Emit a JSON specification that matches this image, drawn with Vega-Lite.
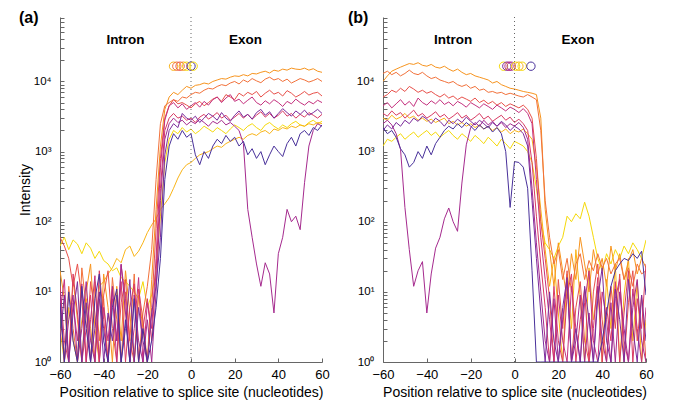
{
"$schema":"https://vega.github.io/schema/vega-lite/v6.json",
"padding":{"left":18,"top":10,"right":5,"bottom":5},
"config":{"font":"Liberation Sans","view":{"stroke":null},
"axis":{"grid":false,"domainColor":"#666","tickColor":"#666","labelColor":"#000","titleColor":"#000","labelFontSize":13,"titleFontSize":14,"titleFontWeight":"normal","labelFlush":false,"labelOverlap":false,"tickSize":-4},
"axisX":{"labelPadding":10,"titlePadding":4},
"axisY":{"labelPadding":13,"titlePadding":1,"labelFontSize":11.5}},
"datasets":{
"a":[
{"s":1,"x":-60,"y":45},{"s":1,"x":-58,"y":60},{"s":1,"x":-56,"y":40},{"s":1,"x":-54,"y":55},{"s":1,"x":-52,"y":48},{"s":1,"x":-50,"y":35},{"s":1,"x":-48,"y":50},{"s":1,"x":-46,"y":42},{"s":1,"x":-44,"y":30},{"s":1,"x":-42,"y":38},{"s":1,"x":-40,"y":28},{"s":1,"x":-38,"y":25},{"s":1,"x":-36,"y":20},{"s":1,"x":-34,"y":22},{"s":1,"x":-32,"y":16},{"s":1,"x":-30,"y":14},{"s":1,"x":-28,"y":12},{"s":1,"x":-26,"y":10},{"s":1,"x":-24,"y":8},{"s":1,"x":-22,"y":14},{"s":1,"x":-20,"y":6},{"s":1,"x":-18,"y":9},{"s":1,"x":-16,"y":20},{"s":1,"x":-14,"y":120},{"s":1,"x":-12,"y":700},{"s":1,"x":-10,"y":1500},{"s":1,"x":-8,"y":2000},{"s":1,"x":-6,"y":1800},{"s":1,"x":-4,"y":2200},{"s":1,"x":-2,"y":1900},{"s":1,"x":0,"y":2100},{"s":1,"x":2,"y":1800},{"s":1,"x":4,"y":2000},{"s":1,"x":6,"y":2300},{"s":1,"x":8,"y":2100},{"s":1,"x":10,"y":1900},{"s":1,"x":12,"y":2200},{"s":1,"x":14,"y":2000},{"s":1,"x":16,"y":1800},{"s":1,"x":18,"y":2100},{"s":1,"x":20,"y":2400},{"s":1,"x":22,"y":2200},{"s":1,"x":24,"y":2000},{"s":1,"x":26,"y":2300},{"s":1,"x":28,"y":2500},{"s":1,"x":30,"y":2200},{"s":1,"x":32,"y":2000},{"s":1,"x":34,"y":2400},{"s":1,"x":36,"y":2600},{"s":1,"x":38,"y":2300},{"s":1,"x":40,"y":2100},{"s":1,"x":42,"y":2400},{"s":1,"x":44,"y":2200},{"s":1,"x":46,"y":2500},{"s":1,"x":48,"y":2700},{"s":1,"x":50,"y":2400},{"s":1,"x":52,"y":2300},{"s":1,"x":54,"y":2600},{"s":1,"x":56,"y":2800},{"s":1,"x":58,"y":2500},{"s":1,"x":60,"y":2700},
{"s":2,"x":-60,"y":3},{"s":2,"x":-58,"y":1},{"s":2,"x":-56,"y":6},{"s":2,"x":-54,"y":2},{"s":2,"x":-52,"y":1},{"s":2,"x":-50,"y":4},{"s":2,"x":-48,"y":8},{"s":2,"x":-46,"y":3},{"s":2,"x":-44,"y":1},{"s":2,"x":-42,"y":12},{"s":2,"x":-40,"y":14},{"s":2,"x":-38,"y":18},{"s":2,"x":-36,"y":22},{"s":2,"x":-34,"y":30},{"s":2,"x":-32,"y":26},{"s":2,"x":-30,"y":40},{"s":2,"x":-28,"y":45},{"s":2,"x":-26,"y":32},{"s":2,"x":-24,"y":38},{"s":2,"x":-22,"y":50},{"s":2,"x":-20,"y":70},{"s":2,"x":-18,"y":90},{"s":2,"x":-16,"y":110},{"s":2,"x":-14,"y":150},{"s":2,"x":-12,"y":180},{"s":2,"x":-10,"y":220},{"s":2,"x":-8,"y":300},{"s":2,"x":-6,"y":420},{"s":2,"x":-4,"y":550},{"s":2,"x":-2,"y":650},{"s":2,"x":0,"y":700},{"s":2,"x":2,"y":800},{"s":2,"x":4,"y":900},{"s":2,"x":6,"y":950},{"s":2,"x":8,"y":1000},{"s":2,"x":10,"y":1100},{"s":2,"x":12,"y":1200},{"s":2,"x":14,"y":1150},{"s":2,"x":16,"y":1300},{"s":2,"x":18,"y":1400},{"s":2,"x":20,"y":1500},{"s":2,"x":22,"y":1600},{"s":2,"x":24,"y":1500},{"s":2,"x":26,"y":1700},{"s":2,"x":28,"y":1800},{"s":2,"x":30,"y":1700},{"s":2,"x":32,"y":1900},{"s":2,"x":34,"y":2000},{"s":2,"x":36,"y":1800},{"s":2,"x":38,"y":2100},{"s":2,"x":40,"y":2000},{"s":2,"x":42,"y":2200},{"s":2,"x":44,"y":2100},{"s":2,"x":46,"y":2300},{"s":2,"x":48,"y":2200},{"s":2,"x":50,"y":2400},{"s":2,"x":52,"y":2300},{"s":2,"x":54,"y":2500},{"s":2,"x":56,"y":2400},{"s":2,"x":58,"y":2600},{"s":2,"x":60,"y":2500},
{"s":3,"x":-60,"y":20},{"s":3,"x":-58,"y":8},{"s":3,"x":-56,"y":1},{"s":3,"x":-54,"y":15},{"s":3,"x":-52,"y":4},{"s":3,"x":-50,"y":1},{"s":3,"x":-48,"y":10},{"s":3,"x":-46,"y":25},{"s":3,"x":-44,"y":3},{"s":3,"x":-42,"y":1},{"s":3,"x":-40,"y":18},{"s":3,"x":-38,"y":6},{"s":3,"x":-36,"y":1},{"s":3,"x":-34,"y":12},{"s":3,"x":-32,"y":2},{"s":3,"x":-30,"y":20},{"s":3,"x":-28,"y":5},{"s":3,"x":-26,"y":1},{"s":3,"x":-24,"y":9},{"s":3,"x":-22,"y":3},{"s":3,"x":-20,"y":1},{"s":3,"x":-18,"y":15},{"s":3,"x":-16,"y":150},{"s":3,"x":-14,"y":1200},{"s":3,"x":-12,"y":4000},{"s":3,"x":-10,"y":6000},{"s":3,"x":-8,"y":7000},{"s":3,"x":-6,"y":6500},{"s":3,"x":-4,"y":7500},{"s":3,"x":-2,"y":8500},{"s":3,"x":0,"y":8000},{"s":3,"x":2,"y":8800},{"s":3,"x":4,"y":9000},{"s":3,"x":6,"y":9500},{"s":3,"x":8,"y":9200},{"s":3,"x":10,"y":10000},{"s":3,"x":12,"y":10500},{"s":3,"x":14,"y":11000},{"s":3,"x":16,"y":10800},{"s":3,"x":18,"y":11500},{"s":3,"x":20,"y":12000},{"s":3,"x":22,"y":11800},{"s":3,"x":24,"y":12500},{"s":3,"x":26,"y":12000},{"s":3,"x":28,"y":13000},{"s":3,"x":30,"y":12800},{"s":3,"x":32,"y":13500},{"s":3,"x":34,"y":14000},{"s":3,"x":36,"y":13200},{"s":3,"x":38,"y":14500},{"s":3,"x":40,"y":14000},{"s":3,"x":42,"y":15000},{"s":3,"x":44,"y":14500},{"s":3,"x":46,"y":15500},{"s":3,"x":48,"y":15000},{"s":3,"x":50,"y":14800},{"s":3,"x":52,"y":15500},{"s":3,"x":54,"y":14500},{"s":3,"x":56,"y":15200},{"s":3,"x":58,"y":14000},{"s":3,"x":60,"y":13500},
{"s":4,"x":-60,"y":8},{"s":4,"x":-58,"y":1},{"s":4,"x":-56,"y":12},{"s":4,"x":-54,"y":3},{"s":4,"x":-52,"y":1},{"s":4,"x":-50,"y":22},{"s":4,"x":-48,"y":6},{"s":4,"x":-46,"y":1},{"s":4,"x":-44,"y":14},{"s":4,"x":-42,"y":2},{"s":4,"x":-40,"y":8},{"s":4,"x":-38,"y":1},{"s":4,"x":-36,"y":16},{"s":4,"x":-34,"y":4},{"s":4,"x":-32,"y":1},{"s":4,"x":-30,"y":10},{"s":4,"x":-28,"y":2},{"s":4,"x":-26,"y":18},{"s":4,"x":-24,"y":1},{"s":4,"x":-22,"y":5},{"s":4,"x":-20,"y":12},{"s":4,"x":-18,"y":40},{"s":4,"x":-16,"y":400},{"s":4,"x":-14,"y":2500},{"s":4,"x":-12,"y":4500},{"s":4,"x":-10,"y":5000},{"s":4,"x":-8,"y":5500},{"s":4,"x":-6,"y":5200},{"s":4,"x":-4,"y":6000},{"s":4,"x":-2,"y":5800},{"s":4,"x":0,"y":6500},{"s":4,"x":2,"y":7000},{"s":4,"x":4,"y":6800},{"s":4,"x":6,"y":7500},{"s":4,"x":8,"y":8000},{"s":4,"x":10,"y":7800},{"s":4,"x":12,"y":8500},{"s":4,"x":14,"y":9000},{"s":4,"x":16,"y":8700},{"s":4,"x":18,"y":9500},{"s":4,"x":20,"y":10000},{"s":4,"x":22,"y":9200},{"s":4,"x":24,"y":10500},{"s":4,"x":26,"y":9800},{"s":4,"x":28,"y":11000},{"s":4,"x":30,"y":10200},{"s":4,"x":32,"y":9600},{"s":4,"x":34,"y":10800},{"s":4,"x":36,"y":11500},{"s":4,"x":38,"y":10500},{"s":4,"x":40,"y":11000},{"s":4,"x":42,"y":10000},{"s":4,"x":44,"y":10800},{"s":4,"x":46,"y":9500},{"s":4,"x":48,"y":10200},{"s":4,"x":50,"y":11000},{"s":4,"x":52,"y":10500},{"s":4,"x":54,"y":9800},{"s":4,"x":56,"y":10300},{"s":4,"x":58,"y":11000},{"s":4,"x":60,"y":10000},
{"s":5,"x":-60,"y":60},{"s":5,"x":-58,"y":45},{"s":5,"x":-56,"y":30},{"s":5,"x":-54,"y":12},{"s":5,"x":-52,"y":25},{"s":5,"x":-50,"y":8},{"s":5,"x":-48,"y":1},{"s":5,"x":-46,"y":14},{"s":5,"x":-44,"y":5},{"s":5,"x":-42,"y":1},{"s":5,"x":-40,"y":9},{"s":5,"x":-38,"y":20},{"s":5,"x":-36,"y":3},{"s":5,"x":-34,"y":1},{"s":5,"x":-32,"y":7},{"s":5,"x":-30,"y":15},{"s":5,"x":-28,"y":2},{"s":5,"x":-26,"y":1},{"s":5,"x":-24,"y":11},{"s":5,"x":-22,"y":4},{"s":5,"x":-20,"y":1},{"s":5,"x":-18,"y":6},{"s":5,"x":-16,"y":80},{"s":5,"x":-14,"y":800},{"s":5,"x":-12,"y":3000},{"s":5,"x":-10,"y":4500},{"s":5,"x":-8,"y":5500},{"s":5,"x":-6,"y":4800},{"s":5,"x":-4,"y":5000},{"s":5,"x":-2,"y":4600},{"s":5,"x":0,"y":4200},{"s":5,"x":2,"y":4800},{"s":5,"x":4,"y":5200},{"s":5,"x":6,"y":4500},{"s":5,"x":8,"y":5000},{"s":5,"x":10,"y":5600},{"s":5,"x":12,"y":6000},{"s":5,"x":14,"y":5200},{"s":5,"x":16,"y":6500},{"s":5,"x":18,"y":6000},{"s":5,"x":20,"y":5500},{"s":5,"x":22,"y":6800},{"s":5,"x":24,"y":6200},{"s":5,"x":26,"y":7000},{"s":5,"x":28,"y":6500},{"s":5,"x":30,"y":7200},{"s":5,"x":32,"y":6000},{"s":5,"x":34,"y":6800},{"s":5,"x":36,"y":7500},{"s":5,"x":38,"y":6600},{"s":5,"x":40,"y":7000},{"s":5,"x":42,"y":6200},{"s":5,"x":44,"y":7400},{"s":5,"x":46,"y":6800},{"s":5,"x":48,"y":6000},{"s":5,"x":50,"y":6500},{"s":5,"x":52,"y":7200},{"s":5,"x":54,"y":6400},{"s":5,"x":56,"y":6800},{"s":5,"x":58,"y":7000},{"s":5,"x":60,"y":6200},
{"s":6,"x":-60,"y":12},{"s":6,"x":-58,"y":2},{"s":6,"x":-56,"y":1},{"s":6,"x":-54,"y":18},{"s":6,"x":-52,"y":5},{"s":6,"x":-50,"y":1},{"s":6,"x":-48,"y":3},{"s":6,"x":-46,"y":9},{"s":6,"x":-44,"y":1},{"s":6,"x":-42,"y":20},{"s":6,"x":-40,"y":4},{"s":6,"x":-38,"y":1},{"s":6,"x":-36,"y":8},{"s":6,"x":-34,"y":2},{"s":6,"x":-32,"y":14},{"s":6,"x":-30,"y":1},{"s":6,"x":-28,"y":6},{"s":6,"x":-26,"y":13},{"s":6,"x":-24,"y":1},{"s":6,"x":-22,"y":3},{"s":6,"x":-20,"y":8},{"s":6,"x":-18,"y":2},{"s":6,"x":-16,"y":20},{"s":6,"x":-14,"y":300},{"s":6,"x":-12,"y":2000},{"s":6,"x":-10,"y":3000},{"s":6,"x":-8,"y":3500},{"s":6,"x":-6,"y":3000},{"s":6,"x":-4,"y":3200},{"s":6,"x":-2,"y":2800},{"s":6,"x":0,"y":3000},{"s":6,"x":2,"y":2600},{"s":6,"x":4,"y":3100},{"s":6,"x":6,"y":3400},{"s":6,"x":8,"y":2900},{"s":6,"x":10,"y":3200},{"s":6,"x":12,"y":3600},{"s":6,"x":14,"y":3000},{"s":6,"x":16,"y":3300},{"s":6,"x":18,"y":2800},{"s":6,"x":20,"y":3100},{"s":6,"x":22,"y":3500},{"s":6,"x":24,"y":3000},{"s":6,"x":26,"y":3400},{"s":6,"x":28,"y":2900},{"s":6,"x":30,"y":3300},{"s":6,"x":32,"y":3700},{"s":6,"x":34,"y":3100},{"s":6,"x":36,"y":3500},{"s":6,"x":38,"y":3000},{"s":6,"x":40,"y":3300},{"s":6,"x":42,"y":3800},{"s":6,"x":44,"y":3200},{"s":6,"x":46,"y":3500},{"s":6,"x":48,"y":3000},{"s":6,"x":50,"y":3400},{"s":6,"x":52,"y":3100},{"s":6,"x":54,"y":3600},{"s":6,"x":56,"y":3300},{"s":6,"x":58,"y":3000},{"s":6,"x":60,"y":3400},
{"s":7,"x":-60,"y":5},{"s":7,"x":-58,"y":15},{"s":7,"x":-56,"y":1},{"s":7,"x":-54,"y":7},{"s":7,"x":-52,"y":2},{"s":7,"x":-50,"y":13},{"s":7,"x":-48,"y":1},{"s":7,"x":-46,"y":4},{"s":7,"x":-44,"y":17},{"s":7,"x":-42,"y":1},{"s":7,"x":-40,"y":6},{"s":7,"x":-38,"y":2},{"s":7,"x":-36,"y":11},{"s":7,"x":-34,"y":1},{"s":7,"x":-32,"y":24},{"s":7,"x":-30,"y":8},{"s":7,"x":-28,"y":1},{"s":7,"x":-26,"y":3},{"s":7,"x":-24,"y":16},{"s":7,"x":-22,"y":1},{"s":7,"x":-20,"y":7},{"s":7,"x":-18,"y":3},{"s":7,"x":-16,"y":30},{"s":7,"x":-14,"y":600},{"s":7,"x":-12,"y":2800},{"s":7,"x":-10,"y":4500},{"s":7,"x":-8,"y":5000},{"s":7,"x":-6,"y":4200},{"s":7,"x":-4,"y":4800},{"s":7,"x":-2,"y":4000},{"s":7,"x":0,"y":4500},{"s":7,"x":2,"y":5000},{"s":7,"x":4,"y":4300},{"s":7,"x":6,"y":5200},{"s":7,"x":8,"y":4600},{"s":7,"x":10,"y":5500},{"s":7,"x":12,"y":6000},{"s":7,"x":14,"y":5000},{"s":7,"x":16,"y":5800},{"s":7,"x":18,"y":6500},{"s":7,"x":20,"y":5200},{"s":7,"x":22,"y":5600},{"s":7,"x":24,"y":4800},{"s":7,"x":26,"y":5400},{"s":7,"x":28,"y":6000},{"s":7,"x":30,"y":5000},{"s":7,"x":32,"y":4600},{"s":7,"x":34,"y":5300},{"s":7,"x":36,"y":4800},{"s":7,"x":38,"y":5500},{"s":7,"x":40,"y":5000},{"s":7,"x":42,"y":4400},{"s":7,"x":44,"y":5200},{"s":7,"x":46,"y":4800},{"s":7,"x":48,"y":5600},{"s":7,"x":50,"y":5000},{"s":7,"x":52,"y":4600},{"s":7,"x":54,"y":5200},{"s":7,"x":56,"y":4800},{"s":7,"x":58,"y":5400},{"s":7,"x":60,"y":5000},
{"s":8,"x":-60,"y":10},{"s":8,"x":-58,"y":1},{"s":8,"x":-56,"y":4},{"s":8,"x":-54,"y":9},{"s":8,"x":-52,"y":1},{"s":8,"x":-50,"y":3},{"s":8,"x":-48,"y":14},{"s":8,"x":-46,"y":2},{"s":8,"x":-44,"y":1},{"s":8,"x":-42,"y":8},{"s":8,"x":-40,"y":3},{"s":8,"x":-38,"y":1},{"s":8,"x":-36,"y":12},{"s":8,"x":-34,"y":2},{"s":8,"x":-32,"y":25},{"s":8,"x":-30,"y":5},{"s":8,"x":-28,"y":1},{"s":8,"x":-26,"y":9},{"s":8,"x":-24,"y":2},{"s":8,"x":-22,"y":1},{"s":8,"x":-20,"y":4},{"s":8,"x":-18,"y":1},{"s":8,"x":-16,"y":10},{"s":8,"x":-14,"y":200},{"s":8,"x":-12,"y":1500},{"s":8,"x":-10,"y":2500},{"s":8,"x":-8,"y":3000},{"s":8,"x":-6,"y":2600},{"s":8,"x":-4,"y":2800},{"s":8,"x":-2,"y":2400},{"s":8,"x":0,"y":2700},{"s":8,"x":2,"y":2500},{"s":8,"x":4,"y":2900},{"s":8,"x":6,"y":2600},{"s":8,"x":8,"y":2300},{"s":8,"x":10,"y":2700},{"s":8,"x":12,"y":2500},{"s":8,"x":14,"y":2800},{"s":8,"x":16,"y":2400},{"s":8,"x":18,"y":2600},{"s":8,"x":20,"y":2300},{"s":8,"x":22,"y":2000},{"s":8,"x":24,"y":1300},{"s":8,"x":26,"y":150},{"s":8,"x":28,"y":60},{"s":8,"x":30,"y":25},{"s":8,"x":32,"y":12},{"s":8,"x":34,"y":26},{"s":8,"x":36,"y":18},{"s":8,"x":38,"y":5},{"s":8,"x":40,"y":35},{"s":8,"x":42,"y":60},{"s":8,"x":44,"y":150},{"s":8,"x":46,"y":100},{"s":8,"x":48,"y":120},{"s":8,"x":50,"y":77},{"s":8,"x":52,"y":360},{"s":8,"x":54,"y":1200},{"s":8,"x":56,"y":2000},{"s":8,"x":58,"y":2500},{"s":8,"x":60,"y":2300},
{"s":9,"x":-60,"y":2},{"s":9,"x":-58,"y":9},{"s":9,"x":-56,"y":1},{"s":9,"x":-54,"y":5},{"s":9,"x":-52,"y":14},{"s":9,"x":-50,"y":1},{"s":9,"x":-48,"y":7},{"s":9,"x":-46,"y":1},{"s":9,"x":-44,"y":3},{"s":9,"x":-42,"y":10},{"s":9,"x":-40,"y":1},{"s":9,"x":-38,"y":5},{"s":9,"x":-36,"y":2},{"s":9,"x":-34,"y":9},{"s":9,"x":-32,"y":1},{"s":9,"x":-30,"y":3},{"s":9,"x":-28,"y":15},{"s":9,"x":-26,"y":1},{"s":9,"x":-24,"y":6},{"s":9,"x":-22,"y":2},{"s":9,"x":-20,"y":1},{"s":9,"x":-18,"y":5},{"s":9,"x":-16,"y":12},{"s":9,"x":-14,"y":60},{"s":9,"x":-12,"y":900},{"s":9,"x":-10,"y":2000},{"s":9,"x":-8,"y":2500},{"s":9,"x":-6,"y":2200},{"s":9,"x":-4,"y":3500},{"s":9,"x":-2,"y":3000},{"s":9,"x":0,"y":2800},{"s":9,"x":2,"y":3200},{"s":9,"x":4,"y":2600},{"s":9,"x":6,"y":3000},{"s":9,"x":8,"y":3500},{"s":9,"x":10,"y":3200},{"s":9,"x":12,"y":2800},{"s":9,"x":14,"y":3600},{"s":9,"x":16,"y":3000},{"s":9,"x":18,"y":2700},{"s":9,"x":20,"y":3300},{"s":9,"x":22,"y":3800},{"s":9,"x":24,"y":3100},{"s":9,"x":26,"y":3400},{"s":9,"x":28,"y":2900},{"s":9,"x":30,"y":3600},{"s":9,"x":32,"y":4000},{"s":9,"x":34,"y":3300},{"s":9,"x":36,"y":3700},{"s":9,"x":38,"y":3000},{"s":9,"x":40,"y":3500},{"s":9,"x":42,"y":4100},{"s":9,"x":44,"y":3600},{"s":9,"x":46,"y":3200},{"s":9,"x":48,"y":3800},{"s":9,"x":50,"y":3400},{"s":9,"x":52,"y":3900},{"s":9,"x":54,"y":3300},{"s":9,"x":56,"y":3600},{"s":9,"x":58,"y":4000},{"s":9,"x":60,"y":3500},
{"s":10,"x":-60,"y":7},{"s":10,"x":-58,"y":1},{"s":10,"x":-56,"y":10},{"s":10,"x":-54,"y":2},{"s":10,"x":-52,"y":1},{"s":10,"x":-50,"y":12},{"s":10,"x":-48,"y":3},{"s":10,"x":-46,"y":1},{"s":10,"x":-44,"y":8},{"s":10,"x":-42,"y":18},{"s":10,"x":-40,"y":2},{"s":10,"x":-38,"y":1},{"s":10,"x":-36,"y":6},{"s":10,"x":-34,"y":11},{"s":10,"x":-32,"y":1},{"s":10,"x":-30,"y":4},{"s":10,"x":-28,"y":1},{"s":10,"x":-26,"y":8},{"s":10,"x":-24,"y":1},{"s":10,"x":-22,"y":3},{"s":10,"x":-20,"y":1},{"s":10,"x":-18,"y":2},{"s":10,"x":-16,"y":6},{"s":10,"x":-14,"y":30},{"s":10,"x":-12,"y":400},{"s":10,"x":-10,"y":1200},{"s":10,"x":-8,"y":1800},{"s":10,"x":-6,"y":1500},{"s":10,"x":-4,"y":2000},{"s":10,"x":-2,"y":1600},{"s":10,"x":0,"y":1800},{"s":10,"x":2,"y":900},{"s":10,"x":4,"y":650},{"s":10,"x":6,"y":1000},{"s":10,"x":8,"y":800},{"s":10,"x":10,"y":1200},{"s":10,"x":12,"y":1500},{"s":10,"x":14,"y":1300},{"s":10,"x":16,"y":1700},{"s":10,"x":18,"y":1400},{"s":10,"x":20,"y":1600},{"s":10,"x":22,"y":1200},{"s":10,"x":24,"y":1400},{"s":10,"x":26,"y":900},{"s":10,"x":28,"y":1100},{"s":10,"x":30,"y":800},{"s":10,"x":32,"y":1000},{"s":10,"x":34,"y":650},{"s":10,"x":36,"y":900},{"s":10,"x":38,"y":1200},{"s":10,"x":40,"y":1000},{"s":10,"x":42,"y":850},{"s":10,"x":44,"y":1300},{"s":10,"x":46,"y":1600},{"s":10,"x":48,"y":1200},{"s":10,"x":50,"y":1800},{"s":10,"x":52,"y":2000},{"s":10,"x":54,"y":1700},{"s":10,"x":56,"y":2200},{"s":10,"x":58,"y":2000},{"s":10,"x":60,"y":2400}
],
"b":[
{"s":1,"x":-60,"y":1200},{"s":1,"x":-58,"y":1500},{"s":1,"x":-56,"y":1400},{"s":1,"x":-54,"y":1600},{"s":1,"x":-52,"y":1800},{"s":1,"x":-50,"y":1500},{"s":1,"x":-48,"y":1700},{"s":1,"x":-46,"y":1900},{"s":1,"x":-44,"y":1600},{"s":1,"x":-42,"y":1800},{"s":1,"x":-40,"y":2000},{"s":1,"x":-38,"y":1700},{"s":1,"x":-36,"y":1900},{"s":1,"x":-34,"y":1600},{"s":1,"x":-32,"y":1800},{"s":1,"x":-30,"y":2000},{"s":1,"x":-28,"y":1700},{"s":1,"x":-26,"y":1500},{"s":1,"x":-24,"y":1800},{"s":1,"x":-22,"y":1600},{"s":1,"x":-20,"y":1400},{"s":1,"x":-18,"y":1700},{"s":1,"x":-16,"y":1500},{"s":1,"x":-14,"y":1300},{"s":1,"x":-12,"y":1600},{"s":1,"x":-10,"y":1400},{"s":1,"x":-8,"y":1200},{"s":1,"x":-6,"y":1500},{"s":1,"x":-4,"y":1300},{"s":1,"x":-2,"y":1100},{"s":1,"x":0,"y":1400},{"s":1,"x":2,"y":1300},{"s":1,"x":4,"y":1200},{"s":1,"x":6,"y":1000},{"s":1,"x":8,"y":700},{"s":1,"x":10,"y":300},{"s":1,"x":12,"y":100},{"s":1,"x":14,"y":50},{"s":1,"x":16,"y":40},{"s":1,"x":18,"y":30},{"s":1,"x":20,"y":45},{"s":1,"x":22,"y":60},{"s":1,"x":24,"y":120},{"s":1,"x":26,"y":100},{"s":1,"x":28,"y":130},{"s":1,"x":30,"y":110},{"s":1,"x":32,"y":190},{"s":1,"x":34,"y":120},{"s":1,"x":36,"y":60},{"s":1,"x":38,"y":30},{"s":1,"x":40,"y":20},{"s":1,"x":42,"y":35},{"s":1,"x":44,"y":25},{"s":1,"x":46,"y":40},{"s":1,"x":48,"y":30},{"s":1,"x":50,"y":45},{"s":1,"x":52,"y":35},{"s":1,"x":54,"y":50},{"s":1,"x":56,"y":40},{"s":1,"x":58,"y":30},{"s":1,"x":60,"y":55},
{"s":2,"x":-60,"y":3000},{"s":2,"x":-58,"y":2800},{"s":2,"x":-56,"y":3300},{"s":2,"x":-54,"y":2900},{"s":2,"x":-52,"y":3100},{"s":2,"x":-50,"y":3500},{"s":2,"x":-48,"y":3000},{"s":2,"x":-46,"y":3200},{"s":2,"x":-44,"y":2800},{"s":2,"x":-42,"y":3000},{"s":2,"x":-40,"y":2700},{"s":2,"x":-38,"y":2900},{"s":2,"x":-36,"y":2600},{"s":2,"x":-34,"y":2800},{"s":2,"x":-32,"y":3000},{"s":2,"x":-30,"y":2500},{"s":2,"x":-28,"y":2700},{"s":2,"x":-26,"y":2400},{"s":2,"x":-24,"y":2600},{"s":2,"x":-22,"y":2300},{"s":2,"x":-20,"y":2500},{"s":2,"x":-18,"y":2200},{"s":2,"x":-16,"y":2400},{"s":2,"x":-14,"y":2100},{"s":2,"x":-12,"y":2300},{"s":2,"x":-10,"y":2000},{"s":2,"x":-8,"y":2200},{"s":2,"x":-6,"y":1900},{"s":2,"x":-4,"y":2100},{"s":2,"x":-2,"y":1800},{"s":2,"x":0,"y":2000},{"s":2,"x":2,"y":1900},{"s":2,"x":4,"y":2100},{"s":2,"x":6,"y":1800},{"s":2,"x":8,"y":1500},{"s":2,"x":10,"y":600},{"s":2,"x":12,"y":150},{"s":2,"x":14,"y":40},{"s":2,"x":16,"y":12},{"s":2,"x":18,"y":30},{"s":2,"x":20,"y":5},{"s":2,"x":22,"y":1},{"s":2,"x":24,"y":18},{"s":2,"x":26,"y":3},{"s":2,"x":28,"y":40},{"s":2,"x":30,"y":8},{"s":2,"x":32,"y":1},{"s":2,"x":34,"y":22},{"s":2,"x":36,"y":4},{"s":2,"x":38,"y":12},{"s":2,"x":40,"y":1},{"s":2,"x":42,"y":15},{"s":2,"x":44,"y":3},{"s":2,"x":46,"y":25},{"s":2,"x":48,"y":1},{"s":2,"x":50,"y":9},{"s":2,"x":52,"y":30},{"s":2,"x":54,"y":2},{"s":2,"x":56,"y":14},{"s":2,"x":58,"y":1},{"s":2,"x":60,"y":4},
{"s":3,"x":-60,"y":10000},{"s":3,"x":-58,"y":12000},{"s":3,"x":-56,"y":14000},{"s":3,"x":-54,"y":15000},{"s":3,"x":-52,"y":16000},{"s":3,"x":-50,"y":17000},{"s":3,"x":-48,"y":18000},{"s":3,"x":-46,"y":17500},{"s":3,"x":-44,"y":18500},{"s":3,"x":-42,"y":17000},{"s":3,"x":-40,"y":16500},{"s":3,"x":-38,"y":17500},{"s":3,"x":-36,"y":16000},{"s":3,"x":-34,"y":15500},{"s":3,"x":-32,"y":16500},{"s":3,"x":-30,"y":15000},{"s":3,"x":-28,"y":14000},{"s":3,"x":-26,"y":15000},{"s":3,"x":-24,"y":13500},{"s":3,"x":-22,"y":12500},{"s":3,"x":-20,"y":13000},{"s":3,"x":-18,"y":12000},{"s":3,"x":-16,"y":11500},{"s":3,"x":-14,"y":11000},{"s":3,"x":-12,"y":10500},{"s":3,"x":-10,"y":9500},{"s":3,"x":-8,"y":10000},{"s":3,"x":-6,"y":9000},{"s":3,"x":-4,"y":8500},{"s":3,"x":-2,"y":8000},{"s":3,"x":0,"y":7800},{"s":3,"x":2,"y":7500},{"s":3,"x":4,"y":7200},{"s":3,"x":6,"y":7000},{"s":3,"x":8,"y":6800},{"s":3,"x":10,"y":6500},{"s":3,"x":12,"y":3000},{"s":3,"x":14,"y":150},{"s":3,"x":16,"y":40},{"s":3,"x":18,"y":12},{"s":3,"x":20,"y":50},{"s":3,"x":22,"y":20},{"s":3,"x":24,"y":8},{"s":3,"x":26,"y":35},{"s":3,"x":28,"y":15},{"s":3,"x":30,"y":60},{"s":3,"x":32,"y":25},{"s":3,"x":34,"y":10},{"s":3,"x":36,"y":40},{"s":3,"x":38,"y":18},{"s":3,"x":40,"y":30},{"s":3,"x":42,"y":12},{"s":3,"x":44,"y":45},{"s":3,"x":46,"y":20},{"s":3,"x":48,"y":35},{"s":3,"x":50,"y":15},{"s":3,"x":52,"y":28},{"s":3,"x":54,"y":40},{"s":3,"x":56,"y":18},{"s":3,"x":58,"y":30},{"s":3,"x":60,"y":22},
{"s":4,"x":-60,"y":13000},{"s":4,"x":-58,"y":14000},{"s":4,"x":-56,"y":12500},{"s":4,"x":-54,"y":13500},{"s":4,"x":-52,"y":12000},{"s":4,"x":-50,"y":13000},{"s":4,"x":-48,"y":14500},{"s":4,"x":-46,"y":13000},{"s":4,"x":-44,"y":12500},{"s":4,"x":-42,"y":13500},{"s":4,"x":-40,"y":12000},{"s":4,"x":-38,"y":11000},{"s":4,"x":-36,"y":11500},{"s":4,"x":-34,"y":10500},{"s":4,"x":-32,"y":10000},{"s":4,"x":-30,"y":9500},{"s":4,"x":-28,"y":10000},{"s":4,"x":-26,"y":9000},{"s":4,"x":-24,"y":8500},{"s":4,"x":-22,"y":9000},{"s":4,"x":-20,"y":8000},{"s":4,"x":-18,"y":8500},{"s":4,"x":-16,"y":7500},{"s":4,"x":-14,"y":7800},{"s":4,"x":-12,"y":7000},{"s":4,"x":-10,"y":7200},{"s":4,"x":-8,"y":6800},{"s":4,"x":-6,"y":7000},{"s":4,"x":-4,"y":6500},{"s":4,"x":-2,"y":6800},{"s":4,"x":0,"y":6500},{"s":4,"x":2,"y":6200},{"s":4,"x":4,"y":6000},{"s":4,"x":6,"y":6500},{"s":4,"x":8,"y":6000},{"s":4,"x":10,"y":5500},{"s":4,"x":12,"y":2000},{"s":4,"x":14,"y":200},{"s":4,"x":16,"y":60},{"s":4,"x":18,"y":25},{"s":4,"x":20,"y":40},{"s":4,"x":22,"y":15},{"s":4,"x":24,"y":30},{"s":4,"x":26,"y":10},{"s":4,"x":28,"y":25},{"s":4,"x":30,"y":35},{"s":4,"x":32,"y":15},{"s":4,"x":34,"y":28},{"s":4,"x":36,"y":20},{"s":4,"x":38,"y":35},{"s":4,"x":40,"y":22},{"s":4,"x":42,"y":30},{"s":4,"x":44,"y":18},{"s":4,"x":46,"y":25},{"s":4,"x":48,"y":30},{"s":4,"x":50,"y":15},{"s":4,"x":52,"y":22},{"s":4,"x":54,"y":12},{"s":4,"x":56,"y":25},{"s":4,"x":58,"y":18},{"s":4,"x":60,"y":20},
{"s":5,"x":-60,"y":6000},{"s":5,"x":-58,"y":6500},{"s":5,"x":-56,"y":7500},{"s":5,"x":-54,"y":7000},{"s":5,"x":-52,"y":8000},{"s":5,"x":-50,"y":7200},{"s":5,"x":-48,"y":8500},{"s":5,"x":-46,"y":7800},{"s":5,"x":-44,"y":7000},{"s":5,"x":-42,"y":7500},{"s":5,"x":-40,"y":6800},{"s":5,"x":-38,"y":7200},{"s":5,"x":-36,"y":6500},{"s":5,"x":-34,"y":6000},{"s":5,"x":-32,"y":6600},{"s":5,"x":-30,"y":5800},{"s":5,"x":-28,"y":6200},{"s":5,"x":-26,"y":5500},{"s":5,"x":-24,"y":6000},{"s":5,"x":-22,"y":5600},{"s":5,"x":-20,"y":5200},{"s":5,"x":-18,"y":5800},{"s":5,"x":-16,"y":5000},{"s":5,"x":-14,"y":5400},{"s":5,"x":-12,"y":4800},{"s":5,"x":-10,"y":5200},{"s":5,"x":-8,"y":4600},{"s":5,"x":-6,"y":5000},{"s":5,"x":-4,"y":4400},{"s":5,"x":-2,"y":4800},{"s":5,"x":0,"y":4500},{"s":5,"x":2,"y":4200},{"s":5,"x":4,"y":4600},{"s":5,"x":6,"y":4000},{"s":5,"x":8,"y":3000},{"s":5,"x":10,"y":800},{"s":5,"x":12,"y":100},{"s":5,"x":14,"y":30},{"s":5,"x":16,"y":8},{"s":5,"x":18,"y":1},{"s":5,"x":20,"y":15},{"s":5,"x":22,"y":3},{"s":5,"x":24,"y":20},{"s":5,"x":26,"y":1},{"s":5,"x":28,"y":6},{"s":5,"x":30,"y":14},{"s":5,"x":32,"y":2},{"s":5,"x":34,"y":1},{"s":5,"x":36,"y":10},{"s":5,"x":38,"y":25},{"s":5,"x":40,"y":4},{"s":5,"x":42,"y":1},{"s":5,"x":44,"y":12},{"s":5,"x":46,"y":3},{"s":5,"x":48,"y":18},{"s":5,"x":50,"y":1},{"s":5,"x":52,"y":7},{"s":5,"x":54,"y":20},{"s":5,"x":56,"y":2},{"s":5,"x":58,"y":9},{"s":5,"x":60,"y":1},
{"s":6,"x":-60,"y":3500},{"s":6,"x":-58,"y":3200},{"s":6,"x":-56,"y":3800},{"s":6,"x":-54,"y":3300},{"s":6,"x":-52,"y":3600},{"s":6,"x":-50,"y":3000},{"s":6,"x":-48,"y":3400},{"s":6,"x":-46,"y":3900},{"s":6,"x":-44,"y":3200},{"s":6,"x":-42,"y":3500},{"s":6,"x":-40,"y":3000},{"s":6,"x":-38,"y":3300},{"s":6,"x":-36,"y":3700},{"s":6,"x":-34,"y":3100},{"s":6,"x":-32,"y":3400},{"s":6,"x":-30,"y":2900},{"s":6,"x":-28,"y":3200},{"s":6,"x":-26,"y":3600},{"s":6,"x":-24,"y":3000},{"s":6,"x":-22,"y":3300},{"s":6,"x":-20,"y":2800},{"s":6,"x":-18,"y":3100},{"s":6,"x":-16,"y":3500},{"s":6,"x":-14,"y":2900},{"s":6,"x":-12,"y":3200},{"s":6,"x":-10,"y":2700},{"s":6,"x":-8,"y":3000},{"s":6,"x":-6,"y":3300},{"s":6,"x":-4,"y":2800},{"s":6,"x":-2,"y":3100},{"s":6,"x":0,"y":2600},{"s":6,"x":2,"y":2900},{"s":6,"x":4,"y":2500},{"s":6,"x":6,"y":2000},{"s":6,"x":8,"y":700},{"s":6,"x":10,"y":120},{"s":6,"x":12,"y":25},{"s":6,"x":14,"y":6},{"s":6,"x":16,"y":1},{"s":6,"x":18,"y":12},{"s":6,"x":20,"y":2},{"s":6,"x":22,"y":1},{"s":6,"x":24,"y":9},{"s":6,"x":26,"y":18},{"s":6,"x":28,"y":1},{"s":6,"x":30,"y":4},{"s":6,"x":32,"y":11},{"s":6,"x":34,"y":1},{"s":6,"x":36,"y":3},{"s":6,"x":38,"y":16},{"s":6,"x":40,"y":1},{"s":6,"x":42,"y":6},{"s":6,"x":44,"y":2},{"s":6,"x":46,"y":14},{"s":6,"x":48,"y":1},{"s":6,"x":50,"y":5},{"s":6,"x":52,"y":20},{"s":6,"x":54,"y":1},{"s":6,"x":56,"y":8},{"s":6,"x":58,"y":3},{"s":6,"x":60,"y":25},
{"s":7,"x":-60,"y":4500},{"s":7,"x":-58,"y":5000},{"s":7,"x":-56,"y":4200},{"s":7,"x":-54,"y":4800},{"s":7,"x":-52,"y":5500},{"s":7,"x":-50,"y":4600},{"s":7,"x":-48,"y":5200},{"s":7,"x":-46,"y":4400},{"s":7,"x":-44,"y":5800},{"s":7,"x":-42,"y":5000},{"s":7,"x":-40,"y":4600},{"s":7,"x":-38,"y":5300},{"s":7,"x":-36,"y":4800},{"s":7,"x":-34,"y":5500},{"s":7,"x":-32,"y":4700},{"s":7,"x":-30,"y":5100},{"s":7,"x":-28,"y":4500},{"s":7,"x":-26,"y":5200},{"s":7,"x":-24,"y":4800},{"s":7,"x":-22,"y":4300},{"s":7,"x":-20,"y":5000},{"s":7,"x":-18,"y":4600},{"s":7,"x":-16,"y":4200},{"s":7,"x":-14,"y":4800},{"s":7,"x":-12,"y":4400},{"s":7,"x":-10,"y":4000},{"s":7,"x":-8,"y":4600},{"s":7,"x":-6,"y":4200},{"s":7,"x":-4,"y":3800},{"s":7,"x":-2,"y":4300},{"s":7,"x":0,"y":4000},{"s":7,"x":2,"y":3600},{"s":7,"x":4,"y":4100},{"s":7,"x":6,"y":3500},{"s":7,"x":8,"y":2500},{"s":7,"x":10,"y":400},{"s":7,"x":12,"y":60},{"s":7,"x":14,"y":15},{"s":7,"x":16,"y":4},{"s":7,"x":18,"y":1},{"s":7,"x":20,"y":9},{"s":7,"x":22,"y":2},{"s":7,"x":24,"y":1},{"s":7,"x":26,"y":12},{"s":7,"x":28,"y":3},{"s":7,"x":30,"y":1},{"s":7,"x":32,"y":7},{"s":7,"x":34,"y":20},{"s":7,"x":36,"y":2},{"s":7,"x":38,"y":1},{"s":7,"x":40,"y":10},{"s":7,"x":42,"y":4},{"s":7,"x":44,"y":1},{"s":7,"x":46,"y":8},{"s":7,"x":48,"y":15},{"s":7,"x":50,"y":2},{"s":7,"x":52,"y":1},{"s":7,"x":54,"y":11},{"s":7,"x":56,"y":3},{"s":7,"x":58,"y":1},{"s":7,"x":60,"y":6},
{"s":8,"x":-60,"y":2500},{"s":8,"x":-58,"y":2800},{"s":8,"x":-56,"y":2400},{"s":8,"x":-54,"y":1800},{"s":8,"x":-52,"y":1070},{"s":8,"x":-50,"y":160},{"s":8,"x":-48,"y":40},{"s":8,"x":-46,"y":12},{"s":8,"x":-44,"y":20},{"s":8,"x":-42,"y":27},{"s":8,"x":-40,"y":5},{"s":8,"x":-38,"y":18},{"s":8,"x":-36,"y":42},{"s":8,"x":-34,"y":60},{"s":8,"x":-32,"y":110},{"s":8,"x":-30,"y":157},{"s":8,"x":-28,"y":100},{"s":8,"x":-26,"y":73},{"s":8,"x":-24,"y":356},{"s":8,"x":-22,"y":1250},{"s":8,"x":-20,"y":2200},{"s":8,"x":-18,"y":2600},{"s":8,"x":-16,"y":2300},{"s":8,"x":-14,"y":2800},{"s":8,"x":-12,"y":2400},{"s":8,"x":-10,"y":2700},{"s":8,"x":-8,"y":2300},{"s":8,"x":-6,"y":2600},{"s":8,"x":-4,"y":2200},{"s":8,"x":-2,"y":2500},{"s":8,"x":0,"y":2300},{"s":8,"x":2,"y":2600},{"s":8,"x":4,"y":2200},{"s":8,"x":6,"y":1500},{"s":8,"x":8,"y":300},{"s":8,"x":10,"y":50},{"s":8,"x":12,"y":10},{"s":8,"x":14,"y":2},{"s":8,"x":16,"y":1},{"s":8,"x":18,"y":8},{"s":8,"x":20,"y":1},{"s":8,"x":22,"y":4},{"s":8,"x":24,"y":14},{"s":8,"x":26,"y":1},{"s":8,"x":28,"y":2},{"s":8,"x":30,"y":9},{"s":8,"x":32,"y":1},{"s":8,"x":34,"y":5},{"s":8,"x":36,"y":1},{"s":8,"x":38,"y":12},{"s":8,"x":40,"y":2},{"s":8,"x":42,"y":1},{"s":8,"x":44,"y":7},{"s":8,"x":46,"y":1},{"s":8,"x":48,"y":10},{"s":8,"x":50,"y":3},{"s":8,"x":52,"y":1},{"s":8,"x":54,"y":6},{"s":8,"x":56,"y":15},{"s":8,"x":58,"y":2},{"s":8,"x":60,"y":1},
{"s":9,"x":-60,"y":2000},{"s":9,"x":-58,"y":2400},{"s":9,"x":-56,"y":2100},{"s":9,"x":-54,"y":2600},{"s":9,"x":-52,"y":2300},{"s":9,"x":-50,"y":2800},{"s":9,"x":-48,"y":2500},{"s":9,"x":-46,"y":3000},{"s":9,"x":-44,"y":2700},{"s":9,"x":-42,"y":3200},{"s":9,"x":-40,"y":2900},{"s":9,"x":-38,"y":2500},{"s":9,"x":-36,"y":3000},{"s":9,"x":-34,"y":2700},{"s":9,"x":-32,"y":2300},{"s":9,"x":-30,"y":2800},{"s":9,"x":-28,"y":2500},{"s":9,"x":-26,"y":2900},{"s":9,"x":-24,"y":2600},{"s":9,"x":-22,"y":3100},{"s":9,"x":-20,"y":2700},{"s":9,"x":-18,"y":2400},{"s":9,"x":-16,"y":2800},{"s":9,"x":-14,"y":2500},{"s":9,"x":-12,"y":2200},{"s":9,"x":-10,"y":2600},{"s":9,"x":-8,"y":2300},{"s":9,"x":-6,"y":2700},{"s":9,"x":-4,"y":2400},{"s":9,"x":-2,"y":2000},{"s":9,"x":0,"y":2300},{"s":9,"x":2,"y":2100},{"s":9,"x":4,"y":1800},{"s":9,"x":6,"y":1200},{"s":9,"x":8,"y":200},{"s":9,"x":10,"y":30},{"s":9,"x":12,"y":5},{"s":9,"x":14,"y":1},{"s":9,"x":16,"y":10},{"s":9,"x":18,"y":2},{"s":9,"x":20,"y":1},{"s":9,"x":22,"y":6},{"s":9,"x":24,"y":16},{"s":9,"x":26,"y":1},{"s":9,"x":28,"y":3},{"s":9,"x":30,"y":1},{"s":9,"x":32,"y":12},{"s":9,"x":34,"y":4},{"s":9,"x":36,"y":1},{"s":9,"x":38,"y":8},{"s":9,"x":40,"y":22},{"s":9,"x":42,"y":2},{"s":9,"x":44,"y":1},{"s":9,"x":46,"y":11},{"s":9,"x":48,"y":4},{"s":9,"x":50,"y":1},{"s":9,"x":52,"y":15},{"s":9,"x":54,"y":3},{"s":9,"x":56,"y":1},{"s":9,"x":58,"y":9},{"s":9,"x":60,"y":2},
{"s":10,"x":-60,"y":2200},{"s":10,"x":-58,"y":1800},{"s":10,"x":-56,"y":2000},{"s":10,"x":-54,"y":1600},{"s":10,"x":-52,"y":1100},{"s":10,"x":-50,"y":900},{"s":10,"x":-48,"y":600},{"s":10,"x":-46,"y":700},{"s":10,"x":-44,"y":1000},{"s":10,"x":-42,"y":800},{"s":10,"x":-40,"y":1200},{"s":10,"x":-38,"y":900},{"s":10,"x":-36,"y":1300},{"s":10,"x":-34,"y":1600},{"s":10,"x":-32,"y":2000},{"s":10,"x":-30,"y":2300},{"s":10,"x":-28,"y":2100},{"s":10,"x":-26,"y":2500},{"s":10,"x":-24,"y":2200},{"s":10,"x":-22,"y":2600},{"s":10,"x":-20,"y":2300},{"s":10,"x":-18,"y":2000},{"s":10,"x":-16,"y":2400},{"s":10,"x":-14,"y":2100},{"s":10,"x":-12,"y":2300},{"s":10,"x":-10,"y":1900},{"s":10,"x":-8,"y":2200},{"s":10,"x":-6,"y":1800},{"s":10,"x":-4,"y":1000},{"s":10,"x":-2,"y":160},{"s":10,"x":0,"y":720},{"s":10,"x":2,"y":700},{"s":10,"x":4,"y":600},{"s":10,"x":6,"y":300},{"s":10,"x":8,"y":20},{"s":10,"x":10,"y":1},{"s":10,"x":12,"y":1},{"s":10,"x":14,"y":1},{"s":10,"x":16,"y":1},{"s":10,"x":18,"y":1},{"s":10,"x":20,"y":1},{"s":10,"x":22,"y":1},{"s":10,"x":24,"y":1},{"s":10,"x":26,"y":1},{"s":10,"x":28,"y":1},{"s":10,"x":30,"y":1},{"s":10,"x":32,"y":1},{"s":10,"x":34,"y":1},{"s":10,"x":36,"y":1},{"s":10,"x":38,"y":1},{"s":10,"x":40,"y":2},{"s":10,"x":42,"y":5},{"s":10,"x":44,"y":12},{"s":10,"x":46,"y":20},{"s":10,"x":48,"y":25},{"s":10,"x":50,"y":30},{"s":10,"x":52,"y":28},{"s":10,"x":54,"y":35},{"s":10,"x":56,"y":30},{"s":10,"x":58,"y":38},{"s":10,"x":60,"y":9}
],
"ca":[{"s":2,"x":-8},{"s":4,"x":-6.5},{"s":5,"x":-5},{"s":3,"x":-3.5},{"s":1,"x":-2},{"s":10,"x":0},{"s":1,"x":1}],
"cb":[{"s":1,"x":-5},{"s":9,"x":-3.5},{"s":7,"x":-2.5},{"s":8,"x":-1.5},{"s":1,"x":0.5},{"s":2,"x":2},{"s":1,"x":3.5},{"s":10,"x":7.5}]
},
"bounds":"flush",
"spacing":61,
"hconcat":[
{"width":262,"height":345,
"title":{"text":"(a)","anchor":"start","frame":"group","fontSize":16,"fontWeight":"bold","offset":-14,"dx":-41},
"layer":[
{"data":{"name":"a"},"mark":{"type":"line","strokeWidth":1,"clip":true},
"encoding":{
"x":{"field":"x","type":"quantitative","scale":{"domain":[-60,60],"nice":false},"axis":{"values":[-60,-40,-20,0,20,40,60],"title":"Position relative to splice site (nucleotides)"}},
"y":{"field":"y","type":"quantitative","scale":{"type":"log","domain":[1,83000],"nice":false},"axis":{"title":"Intensity","values":[1,2,3,4,5,6,7,8,9,10,20,30,40,50,60,70,80,90,100,200,300,400,500,600,700,800,900,1000,2000,3000,4000,5000,6000,7000,8000,9000,10000,20000,30000,40000,50000,60000,70000,80000],"labelExpr":"datum.value==1?'10⁰':datum.value==10?'10¹':datum.value==100?'10²':datum.value==1000?'10³':datum.value==10000?'10⁴':''"}},
"color":{"field":"s","type":"ordinal","scale":{"domain":[1,2,3,4,5,6,7,8,9,10],"range":["#f5d90a","#f9b418","#f7941e","#f2713a","#e8504a","#d83a63","#c4307e","#a52a8e","#7c2c9c","#48309a"]},"legend":null}}},
{"data":{"values":[{}]},"mark":{"type":"rule","strokeDash":[1,3],"color":"#666","strokeWidth":1},"encoding":{"x":{"datum":0}}},
{"data":{"name":"ca"},"mark":{"type":"point","shape":"circle","filled":false,"size":70,"strokeWidth":1,"opacity":1},"encoding":{"x":{"field":"x","type":"quantitative"},"y":{"datum":16500},"color":{"field":"s","type":"ordinal","legend":null}}},
{"data":{"values":[{}]},"mark":{"type":"text","fontSize":13.5,"fontWeight":"bold","baseline":"middle"},"encoding":{"x":{"datum":-30},"y":{"datum":39000},"text":{"value":"Intron"}}},
{"data":{"values":[{}]},"mark":{"type":"text","fontSize":13.5,"fontWeight":"bold","baseline":"middle"},"encoding":{"x":{"datum":25},"y":{"datum":39000},"text":{"value":"Exon"}}}
]},
{"width":263,"height":345,
"title":{"text":"(b)","anchor":"start","frame":"group","fontSize":16,"fontWeight":"bold","offset":-14,"dx":-35},
"layer":[
{"data":{"name":"b"},"mark":{"type":"line","strokeWidth":1,"clip":true},
"encoding":{
"x":{"field":"x","type":"quantitative","scale":{"domain":[-60,60],"nice":false},"axis":{"values":[-60,-40,-20,0,20,40,60],"title":"Position relative to splice site (nucleotides)"}},
"y":{"field":"y","type":"quantitative","scale":{"type":"log","domain":[1,83000],"nice":false},"axis":{"title":null,"values":[1,2,3,4,5,6,7,8,9,10,20,30,40,50,60,70,80,90,100,200,300,400,500,600,700,800,900,1000,2000,3000,4000,5000,6000,7000,8000,9000,10000,20000,30000,40000,50000,60000,70000,80000],"labelExpr":"datum.value==1?'10⁰':datum.value==10?'10¹':datum.value==100?'10²':datum.value==1000?'10³':datum.value==10000?'10⁴':''"}},
"color":{"field":"s","type":"ordinal","scale":{"domain":[1,2,3,4,5,6,7,8,9,10],"range":["#f5d90a","#f9b418","#f7941e","#f2713a","#e8504a","#d83a63","#c4307e","#a52a8e","#7c2c9c","#48309a"]},"legend":null}}},
{"data":{"values":[{}]},"mark":{"type":"rule","strokeDash":[1,3],"color":"#666","strokeWidth":1},"encoding":{"x":{"datum":0}}},
{"data":{"name":"cb"},"mark":{"type":"point","shape":"circle","filled":false,"size":70,"strokeWidth":1,"opacity":1},"encoding":{"x":{"field":"x","type":"quantitative"},"y":{"datum":16500},"color":{"field":"s","type":"ordinal","legend":null}}},
{"data":{"values":[{}]},"mark":{"type":"text","fontSize":13.5,"fontWeight":"bold","baseline":"middle"},"encoding":{"x":{"datum":-28},"y":{"datum":39000},"text":{"value":"Intron"}}},
{"data":{"values":[{}]},"mark":{"type":"text","fontSize":13.5,"fontWeight":"bold","baseline":"middle"},"encoding":{"x":{"datum":29},"y":{"datum":39000},"text":{"value":"Exon"}}}
]}
]
}
